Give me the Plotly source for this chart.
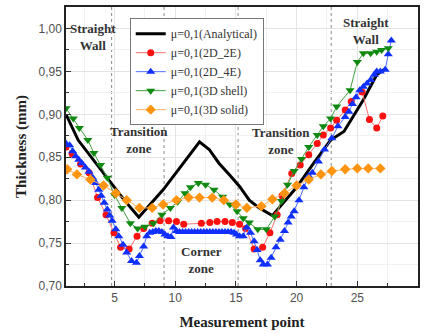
import plotly.graph_objects as go

# ---------------- data ----------------
ana_x = [1.0, 2.0, 5.8, 7.0, 9.0, 12.0, 12.8, 13.6, 14.5, 15.3, 16.1, 16.9, 18.0,
         19.0, 20.0, 21.2, 22.2, 22.8, 23.9, 25.5, 26.6, 27.3]
ana_y = [0.900, 0.870, 0.800, 0.780, 0.812, 0.868, 0.859, 0.843, 0.829, 0.816, 0.800, 0.791, 0.782,
         0.798, 0.815, 0.839, 0.858, 0.870, 0.880, 0.917, 0.946, 0.953]

e2_x = [1.0, 1.5, 2.2, 2.9, 3.6, 4.3, 4.95, 5.5, 6.2, 6.85, 7.4, 8.1, 8.75, 9.45, 10.1, 10.7,
        12.15, 12.85, 13.45, 14.1, 14.7, 15.3, 15.8, 16.5, 17.2, 17.8, 18.4, 18.8, 19.6, 20.3,
        21.0, 21.7, 22.2, 22.8, 23.3, 24.0, 24.5, 25.4, 26.0, 26.6, 27.1]
e2_y = [0.862, 0.854, 0.842, 0.832, 0.803, 0.783, 0.762, 0.745, 0.743, 0.758, 0.767, 0.773, 0.776, 0.776, 0.775, 0.772,
        0.773, 0.774, 0.775, 0.775, 0.774, 0.772, 0.767, 0.743, 0.745, 0.762, 0.783, 0.805, 0.831, 0.841,
        0.853, 0.866, 0.876, 0.884, 0.893, 0.905, 0.915, 0.926, 0.894, 0.884, 0.898]

e4_x = [1.0, 1.3, 1.55, 1.8, 2.05, 2.3, 2.6, 2.9, 3.2, 3.45, 3.7, 3.9, 4.15, 4.4, 4.6, 4.8,
        5.1, 5.35, 5.7, 6.0, 6.4, 6.8, 7.05, 7.4, 7.65, 7.9, 8.15, 8.4, 8.65, 8.9, 9.15, 9.4,
        9.65, 9.85, 10.1, 10.35, 10.6, 10.85, 11.1, 11.35, 11.6, 11.85, 12.1, 12.35, 12.6,
        12.85, 13.1, 13.35, 13.6, 13.85, 14.1, 14.35, 14.6, 14.85, 15.05, 15.3, 15.6, 15.9,
        16.2, 16.5, 16.75, 17.0, 17.25, 17.6, 17.9, 18.3, 18.65, 19.0, 19.3, 19.55, 19.8,
        20.2, 20.6, 21.0, 21.3, 21.8, 22.3, 22.9, 23.4, 24.0, 24.3, 24.6, 24.9, 25.2, 25.5,
        25.8, 26.1, 26.4, 26.6, 26.9, 27.3, 27.55, 27.8]
e4_y = [0.866, 0.864, 0.857, 0.851, 0.847, 0.843, 0.838, 0.833, 0.826, 0.820, 0.812, 0.805, 0.797, 0.789, 0.782, 0.776,
        0.766, 0.758, 0.748, 0.739, 0.729, 0.727, 0.735, 0.746, 0.758, 0.762, 0.763, 0.764, 0.764, 0.763, 0.760, 0.758,
        0.757, 0.768, 0.764, 0.763, 0.763, 0.763, 0.763, 0.763, 0.763, 0.763, 0.763, 0.763, 0.763,
        0.763, 0.763, 0.763, 0.763, 0.763, 0.763, 0.763, 0.763, 0.762, 0.760, 0.758, 0.758, 0.768,
        0.762, 0.752, 0.742, 0.730, 0.725, 0.725, 0.733, 0.745, 0.754, 0.764, 0.774, 0.781, 0.787,
        0.800, 0.815, 0.828, 0.832, 0.845, 0.859, 0.872, 0.886, 0.897, 0.903, 0.912, 0.920, 0.928, 0.932,
        0.936, 0.940, 0.946, 0.950, 0.950, 0.952, 0.970, 0.986]

sh_x = [1.0, 1.6, 2.1, 2.8, 3.3, 3.85, 4.4, 5.0, 5.6, 6.3, 6.9, 7.5, 8.2, 8.9, 9.6, 10.2, 10.8,
        11.25, 11.9, 12.5, 13.2, 13.9, 14.5, 15.1, 15.6, 16.1, 16.8, 17.5, 18.2, 18.75, 19.25,
        19.8, 20.4, 21.0, 21.7, 22.2, 22.8, 23.3, 24.4, 25.0, 25.5, 26.1, 26.6, 27.0, 27.55]
sh_y = [0.907, 0.895, 0.884, 0.870, 0.855, 0.841, 0.826, 0.806, 0.791, 0.773, 0.767, 0.769, 0.773, 0.783, 0.791, 0.798, 0.808,
        0.815, 0.820, 0.818, 0.812, 0.804, 0.795, 0.787, 0.779, 0.774, 0.766, 0.766, 0.781, 0.799, 0.818,
        0.834, 0.848, 0.862, 0.876, 0.886, 0.895, 0.909, 0.928, 0.961, 0.971, 0.971, 0.973, 0.975, 0.977]

so_x = [1.1, 1.9, 3.0, 4.1, 5.1, 6.0, 7.05, 8.1, 9.0, 10.1, 11.1, 12.0, 13.05, 14.0, 15.0, 15.9,
        17.1, 18.0, 19.0, 20.0, 21.0, 22.0, 22.9, 24.0, 25.0, 25.9, 26.9]
so_y = [0.836, 0.830, 0.824, 0.817, 0.808, 0.800, 0.791, 0.791, 0.795, 0.800, 0.803, 0.803, 0.803, 0.800, 0.795, 0.791,
        0.793, 0.801, 0.808, 0.817, 0.824, 0.830, 0.834, 0.836, 0.837, 0.837, 0.837]

zone_lines = [4.76, 9.08, 15.18, 22.85]

names = ["μ=0,1(Analytical)", "μ=0,1(2D_2E)", "μ=0,1(2D_4E)", "μ=0,1(3D shell)", "μ=0,1(3D solid)"]

# ---------------- figure ----------------
fig = go.Figure()
fig.add_trace(go.Scatter(x=ana_x, y=ana_y, mode="lines", name=names[0],
                         line=dict(color="#000000", width=3)))
fig.add_trace(go.Scatter(x=e2_x, y=e2_y, mode="lines+markers", name=names[1],
                         line=dict(color="#ff7070", width=1),
                         marker=dict(symbol="circle", size=7, color="#ff1010")))
fig.add_trace(go.Scatter(x=e4_x, y=e4_y, mode="lines+markers", name=names[2],
                         line=dict(color="#5070ff", width=1),
                         marker=dict(symbol="triangle-up", size=8, color="#1030ff")))
fig.add_trace(go.Scatter(x=sh_x, y=sh_y, mode="lines+markers", name=names[3],
                         line=dict(color="#40a040", width=1),
                         marker=dict(symbol="triangle-down", size=8, color="#108a10")))
fig.add_trace(go.Scatter(x=so_x, y=so_y, mode="lines+markers", name=names[4],
                         line=dict(color="#ffb060", width=1),
                         marker=dict(symbol="diamond", size=8, color="#ff9410")))

for zx in zone_lines:
    fig.add_shape(type="line", xref="x", yref="paper", x0=zx, x1=zx, y0=0, y1=1,
                  line=dict(color="#8a8a8a", width=1, dash="dot"), layer="below")

serif = "Liberation Serif, Times New Roman, serif"
ann_font = dict(family=serif, size=13, color="#333333")
annots = [
    (3.2, 0.990, "<b>Straight<br>Wall</b>"),
    (7.0, 0.870, "<b>Transition<br>zone</b>"),
    (12.2, 0.730, "<b>Corner<br>zone</b>"),
    (18.7, 0.869, "<b>Transition<br>zone</b>"),
    (25.7, 0.997, "<b>Straight<br>Wall</b>"),
]
for ax_, ay_, txt in annots:
    fig.add_annotation(x=ax_, y=ay_, text=txt, showarrow=False, font=ann_font,
                       xref="x", yref="y", align="center")

axis_common = dict(
    showline=True, linecolor="#222222", linewidth=1.5, mirror=True,
    ticks="inside", ticklen=5, tickcolor="#333333",
    showgrid=True, gridcolor="#e4e4e4", gridwidth=1,
    zeroline=False,
    tickfont=dict(family="Liberation Sans, Arial, sans-serif", size=12, color="#505050"),
)

fig.update_xaxes(range=[1, 30], dtick=5, tick0=0,
                 minor=dict(ticks="inside", ticklen=3, dtick=2.5, showgrid=True, gridcolor="#f1f1f1"),
                 title=dict(text="<b>Measurement point</b>", font=dict(family=serif, size=15, color="#222222"),
                            standoff=12),
                 **axis_common)
fig.update_yaxes(range=[0.70, 1.025], dtick=0.05, tick0=0.70, tickformat=".2f",
                 minor=dict(ticks="inside", ticklen=3, dtick=0.025, showgrid=True, gridcolor="#f1f1f1"),
                 title=dict(text="<b>Thickness (mm)</b>", font=dict(family=serif, size=15, color="#222222"),
                            standoff=8),
                 **axis_common)

fig.update_layout(
    width=424, height=336,
    margin=dict(l=66, r=4, t=7, b=50),
    paper_bgcolor="white", plot_bgcolor="white",
    separators=",.",
    showlegend=True,
    legend=dict(x=0.181, y=0.96, xanchor="left", yanchor="top",
                bgcolor="white", bordercolor="#777777", borderwidth=1,
                font=dict(family=serif, size=12, color="#333333"),
                itemwidth=30, tracegroupgap=0),
)

fig.write_html("out.html")
